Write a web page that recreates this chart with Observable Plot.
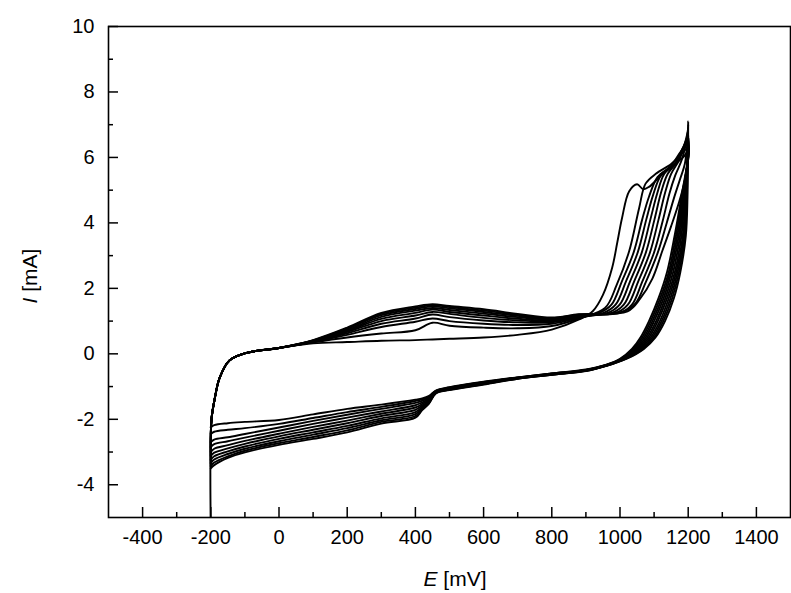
<!DOCTYPE html>
<html>
<head>
<meta charset="utf-8">
<script src="https://cdn.jsdelivr.net/npm/d3@7"></script>
<script src="https://cdn.jsdelivr.net/npm/@observablehq/plot@0.6"></script>
<style>
  html, body { margin: 0; padding: 0; background: #fff; }
  #chart svg { display: block; }
</style>
</head>
<body>
<div id="chart"></div>
<script>
// ---- tick values ----
const xMajorTicks = [-400, -200, 0, 200, 400, 600, 800, 1000, 1200, 1400];
const xMinorTicks = [-300, -100, 100, 300, 500, 700, 900, 1100, 1300];
const yMajorTicks = [-4, -2, 0, 2, 4, 6, 8, 10];
const yMinorTicks = [-3, -1, 1, 3, 5, 7, 9];

// ---- anodic (forward) sweep, low-potential part: shared E grid, I per cycle ----
const anodicLowE = [-200, -198, -189, -174, -145, -95, 0, 100, 200, 300, 400, 450, 500, 600, 700, 800, 880];
const anodicLowI = [
  [-5.5, -2.0, -1.4, -0.73, -0.2, 0.03, 0.18, 0.32, 0.36, 0.40, 0.42, 0.44, 0.46, 0.50, 0.58, 0.74, 1.05],
  [-2.25, -2.0, -1.4, -0.73, -0.2, 0.03, 0.18, 0.35, 0.50, 0.62, 0.72, 0.95, 0.86, 0.80, 0.78, 0.85, 1.08],
  [-2.45, -2.0, -1.4, -0.73, -0.2, 0.03, 0.18, 0.36, 0.58, 0.82, 0.98, 1.08, 1.00, 0.92, 0.88, 0.92, 1.10],
  [-2.70, -2.0, -1.4, -0.73, -0.2, 0.03, 0.18, 0.37, 0.63, 0.92, 1.08, 1.20, 1.12, 1.02, 0.96, 0.96, 1.12],
  [-2.85, -2.0, -1.4, -0.73, -0.2, 0.03, 0.18, 0.38, 0.67, 1.00, 1.17, 1.28, 1.22, 1.10, 1.02, 0.99, 1.14],
  [-3.00, -2.0, -1.4, -0.73, -0.2, 0.03, 0.18, 0.39, 0.70, 1.07, 1.25, 1.35, 1.28, 1.17, 1.07, 1.02, 1.16],
  [-3.12, -2.0, -1.4, -0.73, -0.2, 0.03, 0.18, 0.40, 0.73, 1.13, 1.32, 1.40, 1.34, 1.23, 1.12, 1.05, 1.18],
  [-3.24, -2.0, -1.4, -0.73, -0.2, 0.03, 0.18, 0.40, 0.76, 1.18, 1.37, 1.45, 1.39, 1.28, 1.16, 1.07, 1.19],
  [-3.34, -2.0, -1.4, -0.73, -0.2, 0.03, 0.18, 0.41, 0.78, 1.22, 1.41, 1.49, 1.43, 1.32, 1.19, 1.09, 1.20],
  [-3.43, -2.0, -1.4, -0.73, -0.2, 0.03, 0.18, 0.42, 0.80, 1.25, 1.45, 1.52, 1.46, 1.36, 1.22, 1.11, 1.21]
];

// ---- anodic sweep, high-potential part: [E (mV), I (mA)] per cycle ----
const anodicHigh = [
  [[920,1.3],[950,1.8],[977,2.63],[992,3.4],[1006,4.15],[1027,4.97],[1050,5.18],[1068,5.03],[1085,5.1],[1120,5.45],[1160,5.8],[1185,6.0],[1200,6.2]],
  [[956,1.4],[990,2.1],[1027,3.14],[1056,4.45],[1075,5.2],[1105,5.5],[1150,5.8],[1180,6.1],[1200,6.3]],
  [[940,1.25],[975,1.5],[1005,2.2],[1040,3.1],[1065,4.1],[1085,4.8],[1110,5.4],[1150,5.75],[1180,6.2],[1200,6.4]],
  [[952,1.25],[987,1.5],[1017,2.2],[1052,3.1],[1077,4.1],[1097,4.85],[1120,5.45],[1160,5.8],[1185,6.3],[1200,6.5]],
  [[964,1.25],[999,1.5],[1029,2.2],[1064,3.1],[1089,4.1],[1109,4.9],[1130,5.5],[1165,5.85],[1187,6.35],[1200,6.6]],
  [[976,1.25],[1011,1.5],[1041,2.2],[1076,3.1],[1101,4.1],[1121,4.95],[1140,5.5],[1170,5.9],[1190,6.4],[1200,6.7]],
  [[988,1.25],[1023,1.5],[1053,2.2],[1088,3.1],[1113,4.1],[1133,4.95],[1150,5.5],[1175,5.95],[1192,6.5],[1200,6.8]],
  [[1000,1.25],[1035,1.5],[1065,2.2],[1100,3.1],[1125,4.05],[1145,4.9],[1162,5.45],[1182,5.95],[1195,6.5],[1200,6.9]],
  [[1011,1.3],[1046,1.55],[1076,2.2],[1111,3.1],[1137,4.0],[1158,4.75],[1175,5.3],[1190,5.8],[1197,6.4],[1200,7.0]],
  [[1022,1.3],[1060,1.7],[1095,2.3],[1124,3.14],[1150,3.9],[1174,4.66],[1190,5.3],[1198,5.9],[1200,7.1]]
];

// ---- cathodic (reverse) sweep, high-potential part: E per cycle at shared current levels ----
const cathodicLevels = [4.8, 3.6, 2.5, 1.7, 1.0, 0.5, 0.15, -0.15];
const cathodicHighE = [
  [1180, 1160, 1138, 1113, 1085, 1060, 1035, 1000],
  [1182, 1164, 1143, 1118, 1090, 1065, 1039, 1003],
  [1184, 1168, 1147, 1123, 1095, 1070, 1043, 1005],
  [1186, 1172, 1151, 1128, 1100, 1075, 1047, 1008],
  [1188, 1176, 1156, 1133, 1106, 1080, 1051, 1010],
  [1190, 1180, 1161, 1138, 1111, 1085, 1055, 1012],
  [1192, 1184, 1165, 1143, 1117, 1090, 1059, 1014],
  [1194, 1187, 1169, 1148, 1122, 1095, 1063, 1016],
  [1196, 1190, 1173, 1153, 1127, 1100, 1067, 1018],
  [1198, 1193, 1177, 1158, 1132, 1104, 1070, 1020]
];

// ---- cathodic sweep, low-potential part: shared E grid, I per cycle ----
const cathodicLowE = [960, 900, 800, 700, 600, 500, 460, 440, 420, 400, 300, 200, 100, 0, -100, -150, -190, -200];
const cathodicLowI = [
  [-0.33, -0.48, -0.60, -0.72, -0.85, -1.02, -1.12, -1.28, -1.36, -1.40, -1.55, -1.68, -1.85, -2.02, -2.08, -2.12, -2.18, -2.25],
  [-0.34, -0.49, -0.60, -0.72, -0.86, -1.03, -1.13, -1.31, -1.39, -1.44, -1.62, -1.78, -1.96, -2.14, -2.27, -2.32, -2.38, -2.45],
  [-0.34, -0.49, -0.61, -0.73, -0.87, -1.04, -1.14, -1.34, -1.43, -1.50, -1.68, -1.86, -2.05, -2.25, -2.45, -2.55, -2.62, -2.70],
  [-0.35, -0.50, -0.61, -0.73, -0.88, -1.05, -1.15, -1.37, -1.48, -1.57, -1.76, -1.95, -2.14, -2.35, -2.56, -2.67, -2.76, -2.85],
  [-0.35, -0.50, -0.62, -0.74, -0.89, -1.06, -1.16, -1.40, -1.53, -1.64, -1.83, -2.04, -2.23, -2.44, -2.66, -2.79, -2.90, -3.00],
  [-0.35, -0.51, -0.62, -0.74, -0.90, -1.07, -1.17, -1.43, -1.58, -1.71, -1.90, -2.12, -2.32, -2.52, -2.75, -2.89, -3.02, -3.12],
  [-0.36, -0.51, -0.63, -0.75, -0.91, -1.08, -1.18, -1.46, -1.62, -1.78, -1.97, -2.20, -2.40, -2.60, -2.83, -2.98, -3.13, -3.24],
  [-0.36, -0.52, -0.63, -0.75, -0.92, -1.09, -1.19, -1.48, -1.66, -1.84, -2.03, -2.27, -2.47, -2.67, -2.90, -3.06, -3.23, -3.34],
  [-0.37, -0.52, -0.64, -0.76, -0.93, -1.10, -1.20, -1.50, -1.69, -1.90, -2.08, -2.34, -2.54, -2.73, -2.96, -3.13, -3.32, -3.43],
  [-0.37, -0.53, -0.64, -0.76, -0.94, -1.11, -1.21, -1.52, -1.72, -1.95, -2.13, -2.40, -2.60, -2.78, -3.01, -3.18, -3.40, -3.50]
];

// ---- assemble one continuous trace per cycle ----
const points = [];
anodicLowI.forEach((row, k) => {
  const push = (E, I) => points.push({cycle: k + 1, E, I});
  anodicLowE.forEach((E, i) => push(E, row[i]));
  anodicHigh[k].forEach(([E, I]) => push(E, I));
  cathodicHighE[k].forEach((E, i) => push(E, cathodicLevels[i]));
  cathodicLowE.forEach((E, i) => push(E, cathodicLowI[k][i]));
});

const font = "Arial, 'Liberation Sans', sans-serif";

const chart = Plot.plot({
  width: 791,
  height: 593,
  marginLeft: 108,
  marginRight: 1,
  marginTop: 26,
  marginBottom: 76,
  style: {fontFamily: font, fontSize: "20px", color: "#000", background: "#fff"},
  x: {domain: [-500, 1500]},
  y: {domain: [-5, 10]},
  marks: [
    Plot.line(points, {x: "E", y: "I", z: "cycle", stroke: "#000", strokeWidth: 1.9, curve: "catmull-rom", clip: true}),
    Plot.axisX(xMajorTicks, {anchor: "bottom", tickSize: -10, tickPadding: 22, strokeWidth: 1.5, fontSize: 20, tickFormat: d => String(d), label: null}),
    Plot.axisX(xMinorTicks, {anchor: "bottom", tickSize: -5, tickFormat: () => "", strokeWidth: 1.5, label: null}),
    Plot.axisY(yMajorTicks, {anchor: "left", tickSize: -10, tickPadding: 24, strokeWidth: 1.5, fontSize: 20, tickFormat: d => String(d), label: null}),
    Plot.axisY(yMinorTicks, {anchor: "left", tickSize: -5, tickFormat: () => "", strokeWidth: 1.5, label: null}),
    Plot.frame({stroke: "#000", strokeWidth: 1.6})
  ]
});

document.getElementById("chart").appendChild(chart);

// axis titles with italic symbols
const svg = d3.select(chart);
const xt = svg.append("text")
  .attr("x", 455).attr("y", 586)
  .attr("text-anchor", "middle")
  .attr("font-family", font).attr("font-size", 21).attr("fill", "#000");
xt.append("tspan").attr("font-style", "italic").text("E");
xt.append("tspan").text(" [mV]");

const yt = svg.append("text")
  .attr("transform", "translate(37,276) rotate(-90)")
  .attr("text-anchor", "middle")
  .attr("font-family", font).attr("font-size", 21).attr("fill", "#000");
yt.append("tspan").attr("font-style", "italic").text("I");
yt.append("tspan").text(" [mA]");
</script>
</body>
</html>
